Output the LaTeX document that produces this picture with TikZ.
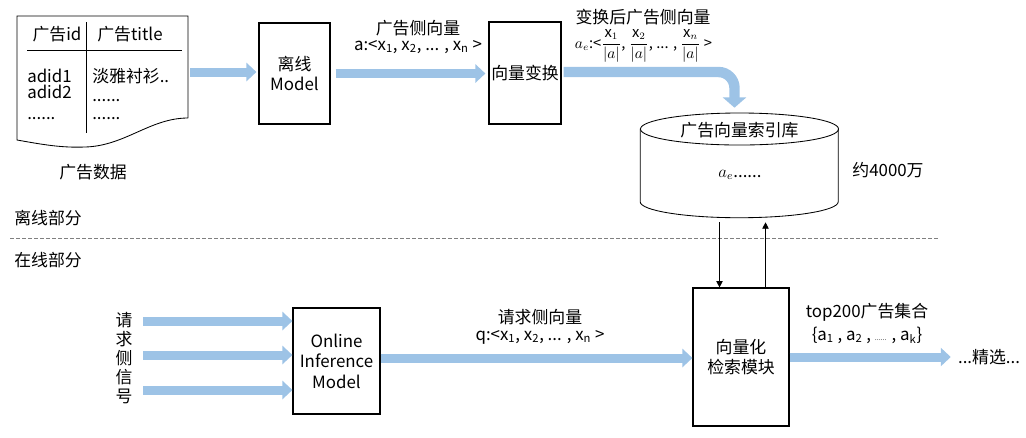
\documentclass[tikz,border=0pt]{standalone}
\usepackage{fontspec}
\setmainfont{Noto Sans CJK SC}
\usepackage{amsmath}
\usetikzlibrary{positioning, arrows.meta}
\definecolor{fatblue}{RGB}{157,195,230}

\begin{document}
\begin{tikzpicture}[
    x=0.025cm, y=-0.025cm,
    every node/.style={font=\fontsize{12}{14.5}\selectfont, inner sep=0pt, align=center},
    box/.style={draw, line width=0.8pt},
    fat/.style={draw=fatblue, line width=0.225cm, -{Triangle[length=0.25cm, width=0.45cm]}},
    fatbend/.style={draw=fatblue, line width=0.26cm, rounded corners=0.4cm, -{Triangle[length=0.26cm, width=0.58cm]}},
    thinarrow/.style={line width=0.6pt, -{Triangle[length=0.16cm, width=0.16cm]}},
    rule/.style={line width=0.6pt}
]
\useasboundingbox (0,0) rectangle (1026,437);

% ad data sheet
\draw[rule] (188,118) -- (188,16) -- (17,16) -- (17,140)
    .. controls (40,144) and (60,148) .. (85,147)
    .. controls (125,146) and (150,118) .. (188,118);
\draw[rule] (27,50) -- (182,50);
\draw[rule] (86,22) -- (86,133);
\node (h1) at (57,34) {广告id};
\node (h2) at (130,34) {广告title};
\node[anchor=base west] (r1) at (27,82) {adid1};
\node[anchor=base west] (r2) at (27,98) {adid2};
\node[anchor=base west] (r3) at (27,119) {......};
\node[anchor=base west] (t1) at (92,82) {淡雅衬衫..};
\node[anchor=base west] (t2) at (92,101) {......};
\node[anchor=base west] (t3) at (92,119) {......};
\node (data) at (93,172) {广告数据};
\coordinate (docE) at (190,72);

% offline part
\node[box, minimum width=1.775cm, minimum height=2.525cm] (offm) at (294.5,73.5) {离线\\Model};
\node[box, minimum width=1.8cm, minimum height=2.55cm] (trans) at (525,73) {向量变换};
\node (advec) at (418,28) {广告侧向量};
\node (advecf) at (418,47) {a:<x\textsubscript{1}, x\textsubscript{2}, ... , x\textsubscript{n} >};
\node (aevec) at (643,17) {变换后广告侧向量};
\node[font=\fontsize{10.5}{12}\selectfont] (aevecf) at (643.5,46) {$a_e$:<$\dfrac{\text{x}_1}{|a|}$, $\dfrac{\text{x}_2}{|a|}$, ... , $\dfrac{\text{x}_n}{|a|}$ >};

% index store
\node[minimum width=4.95cm, minimum height=2.625cm] (db) at (739.5,165.5) {};
\draw[rule] (db.north west) ++(0,-0.4cm) -- ++(0,-1.825cm)
    arc[start angle=180, end angle=360, x radius=2.475cm, y radius=0.4cm] -- ++(0,1.825cm);
\draw[rule] (739.5,129) ellipse [x radius=2.475cm, y radius=0.4cm];
\node (dbname) at (739.5,130) {广告向量索引库};
\node (dbitem) at (740,175) {$a_e$......};
\node (dbsize) at (888,170) {约4000万};

% split
\draw[gray, dash pattern=on 0.1cm off 0.05cm, line width=0.6pt] (10,238) -- (940,238);
\node (offl) at (48,218) {离线部分};
\node (onl) at (48,260) {在线部分};

% online part
\node[font=\fontsize{12}{13.5}\selectfont] (sig) at (124,358) {请\\求\\侧\\信\\号};
\coordinate (s1) at (143,321);
\coordinate (s2) at (143,355);
\coordinate (s3) at (143,390);
\node[box, minimum width=2.175cm, minimum height=2.65cm] (onm) at (336.5,361) {Online\\Inference\\Model};
\node[box, minimum width=2.4cm, minimum height=3.45cm] (retr) at (741,357) {向量化\\检索模块};
\node (qvec) at (540,317) {请求侧向量};
\node (qvecf) at (540,337) {q:<x\textsubscript{1}, x\textsubscript{2}, ... , x\textsubscript{n} >};
\node (topk) at (867,312) {top200广告集合};
\node (topkf) at (867,335) {\{a\textsubscript{1} , a\textsubscript{2} , {\tiny ......} , a\textsubscript{k}\}};
\node (sel) at (989,357) {...精选...};

\draw[fat, shorten >=0.05cm] (docE) -- (docE -| offm.west);
\draw[fat] ([xshift=0.125cm]offm.east) -- ([xshift=-0.075cm]offm.east -| trans.west);
\draw[fatbend] ([xshift=0.05cm,yshift=0.025cm]trans.east) -| ([xshift=-0.125cm,yshift=0.125cm]db.north);
\draw[thinarrow] ([xshift=-0.5cm,yshift=-0.1cm]db.south) -- ([xshift=-0.5cm]db.south |- retr.north);
\draw[thinarrow] ([xshift=0.65cm]db.south |- retr.north) -- ([xshift=0.65cm,yshift=-0.1cm]db.south);
\draw[fat] (s1) -- (s1 -| onm.west);
\draw[fat] (s2) -- (s2 -| onm.west);
\draw[fat] (s3) -- (s3 -| onm.west);
\draw[fat] ([yshift=0.075cm]onm.east) -- ([yshift=0.075cm]onm.east -| retr.west);
\draw[fat] (retr.east) -- ([xshift=-0.175cm]sel.west);

\end{tikzpicture}
\end{document}
